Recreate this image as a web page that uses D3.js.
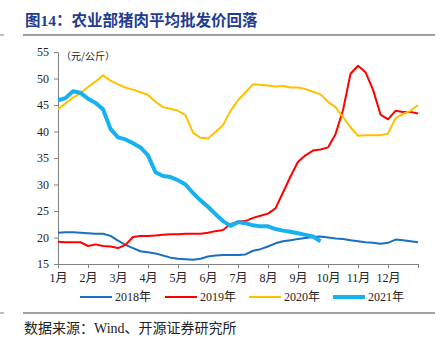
<!DOCTYPE html>
<html>
<head>
<meta charset="utf-8">
<script src="https://cdn.jsdelivr.net/npm/d3@7"></script>
<style>
  body { margin: 0; background: #fff; }
  svg { display: block; }
  .axis path, .axis line { stroke: #808080; }
  .axis text { font-family: "Times New Roman", "Liberation Serif", "Noto Sans CJK SC", serif; font-size: 12px; fill: #222; }
</style>
</head>
<body>
<div id="wrapper"></div>
<script>
// month labels on the x axis (13th tick is the year end, no label)
const monthLabels = ["1月", "2月", "3月", "4月", "5月", "6月", "7月", "8月", "9月", "10月", "11月", "12月", ""]
const yTicks = [15, 20, 25, 30, 35, 40, 45, 50, 55]

// sample points every quarter month (0 = Jan 1, 12 = Dec 31)
const monthPos = d3.range(0, 12.01, 0.25)

const years = ["2018年", "2019年", "2020年", "2021年"]

const values2018 = [20.9, 21.0, 21.0, 20.9, 20.8, 20.7, 20.7, 20.3, 19.4, 18.6, 18.0, 17.4,
  17.2, 17.0, 16.6, 16.2, 16.0, 15.9, 15.8, 16.0, 16.4, 16.6, 16.7, 16.7,
  16.7, 16.8, 17.5, 17.8, 18.3, 18.9, 19.3, 19.5, 19.7, 19.9, 20.1, 20.2,
  20.0, 19.8, 19.7, 19.5, 19.3, 19.1, 19.0, 18.8, 19.0, 19.6, 19.5, 19.3, 19.1]

const values2019 = [19.2, 19.1, 19.1, 19.1, 18.4, 18.7, 18.4, 18.3, 18.0, 18.6, 20.1, 20.3,
  20.3, 20.4, 20.5, 20.6, 20.6, 20.7, 20.7, 20.7, 20.9, 21.2, 21.4, 22.5,
  23.0, 23.1, 23.7, 24.1, 24.5, 25.5, 28.5, 31.5, 34.3, 35.5, 36.4, 36.6,
  37.0, 39.5, 44.0, 50.9, 52.4, 51.2, 47.9, 43.2, 42.3, 43.9, 43.7, 43.7, 43.4]

const values2020 = [44.2, 45.3, 46.4, 47.2, 48.4, 49.4, 50.6, 49.6, 48.9, 48.3, 47.9, 47.4,
  46.9, 45.6, 44.6, 44.3, 43.9, 43.1, 39.8, 38.8, 38.7, 39.9, 41.2, 43.9,
  45.9, 47.4, 48.9, 48.8, 48.7, 48.5, 48.6, 48.3, 48.3, 48.0, 47.5, 47.0,
  45.6, 44.6, 42.7, 40.8, 39.2, 39.3, 39.3, 39.3, 39.6, 42.5, 43.3, 43.9, 45.0]

const values2021 = [45.9, 46.3, 47.6, 47.3, 46.2, 45.4, 44.2, 40.5, 38.9, 38.5, 37.8, 37.0,
  35.5, 32.3, 31.6, 31.4, 30.8, 30.0, 28.4, 27.0, 25.8, 24.4, 23.1, 22.2,
  22.9, 22.7, 22.3, 22.1, 22.1, 21.6, 21.3, 21.1, 20.8, 20.5, 20.2, 19.3]

const seriesValues = [values2018, values2019, values2020, values2021]
const colors = ["#1a6fc1", "#ff0000", "#ffc000", "#15b2ef"]
const widths = [2, 2, 2, 4]

const dms = {
  width: 444,
  height: 351,
  margin: { top: 52, right: 26, bottom: 87, left: 58 },
}
dms.boundedWidth = dms.width - dms.margin.left - dms.margin.right
dms.boundedHeight = dms.height - dms.margin.top - dms.margin.bottom

const wrapper = d3.select("#wrapper")
  .append("svg")
  .attr("width", dms.width)
  .attr("height", dms.height)

// title
wrapper.append("text")
  .attr("x", 25)
  .attr("y", 26)
  .attr("fill", "#1f3c8f")
  .style("font-family", "'Times New Roman', 'Liberation Serif', 'Noto Sans CJK SC', serif")
  .style("font-size", "15.5px")
  .style("font-weight", "bold")
  .text("图14：农业部猪肉平均批发价回落")

// rules
wrapper.append("line")
  .attr("x1", 23).attr("x2", 435).attr("y1", 35).attr("y2", 35)
  .attr("stroke", "#808080").attr("stroke-width", 1.5)
wrapper.append("line")
  .attr("x1", 0).attr("x2", 4).attr("y1", 35).attr("y2", 35)
  .attr("stroke", "#808080").attr("stroke-width", 1)
wrapper.append("line")
  .attr("x1", 23).attr("x2", 435).attr("y1", 313).attr("y2", 313)
  .attr("stroke", "#808080").attr("stroke-width", 1.5)
wrapper.append("line")
  .attr("x1", 0).attr("x2", 4).attr("y1", 313).attr("y2", 313)
  .attr("stroke", "#808080").attr("stroke-width", 1)

// source
wrapper.append("text")
  .attr("x", 24)
  .attr("y", 333)
  .attr("fill", "#222")
  .style("font-family", "'Times New Roman', 'Liberation Serif', 'Noto Sans CJK SC', serif")
  .style("font-size", "14px")
  .text("数据来源：Wind、开源证券研究所")

const bounds = wrapper.append("g")
  .attr("transform", `translate(${dms.margin.left}, ${dms.margin.top})`)

// scales
const xScale = d3.scaleLinear()
  .domain([0, 12])
  .range([0, dms.boundedWidth])

const yScale = d3.scaleLinear()
  .domain([15, 55])
  .range([dms.boundedHeight, 0])

// axes
const yAxisGenerator = d3.axisLeft(yScale)
  .tickValues(yTicks)
  .tickSize(4)
  .tickPadding(5)
  .tickSizeOuter(0)

bounds.append("g")
  .attr("class", "axis")
  .call(yAxisGenerator)

const xAxisGenerator = d3.axisBottom(xScale)
  .tickValues(d3.range(0, 13))
  .tickFormat(i => monthLabels[i])
  .tickSize(4)
  .tickPadding(5)
  .tickSizeOuter(0)

bounds.append("g")
  .attr("class", "axis")
  .attr("transform", `translate(0, ${dms.boundedHeight})`)
  .call(xAxisGenerator)

// unit label
bounds.append("text")
  .attr("x", 3)
  .attr("y", 8)
  .attr("fill", "#222")
  .style("font-family", "'Noto Sans CJK SC', sans-serif")
  .style("font-size", "10px")
  .text("（元/公斤）")

// lines
const lineGenerator = d3.line()
  .defined(d => d[1] != null)
  .x(d => xScale(d[0]))
  .y(d => yScale(d[1]))

seriesValues.forEach((vals, i) => {
  const pts = vals.map((v, j) => [monthPos[j], v])
  bounds.append("path")
    .datum(pts)
    .attr("fill", "none")
    .attr("stroke", colors[i])
    .attr("stroke-width", widths[i])
    .attr("stroke-linejoin", "round")
    .attr("d", lineGenerator)
})

// legend
const legendX = [80, 165, 249, 333]
const legend = wrapper.append("g")
years.forEach((name, i) => {
  legend.append("line")
    .attr("x1", legendX[i]).attr("x2", legendX[i] + 32)
    .attr("y1", 297).attr("y2", 297)
    .attr("stroke", colors[i])
    .attr("stroke-width", widths[i])
  legend.append("text")
    .attr("x", legendX[i] + 35)
    .attr("y", 301)
    .attr("fill", "#222")
    .style("font-family", "'Times New Roman', 'Liberation Serif', 'Noto Sans CJK SC', serif")
    .style("font-size", "12px")
    .text(name)
})
</script>
</body>
</html>
